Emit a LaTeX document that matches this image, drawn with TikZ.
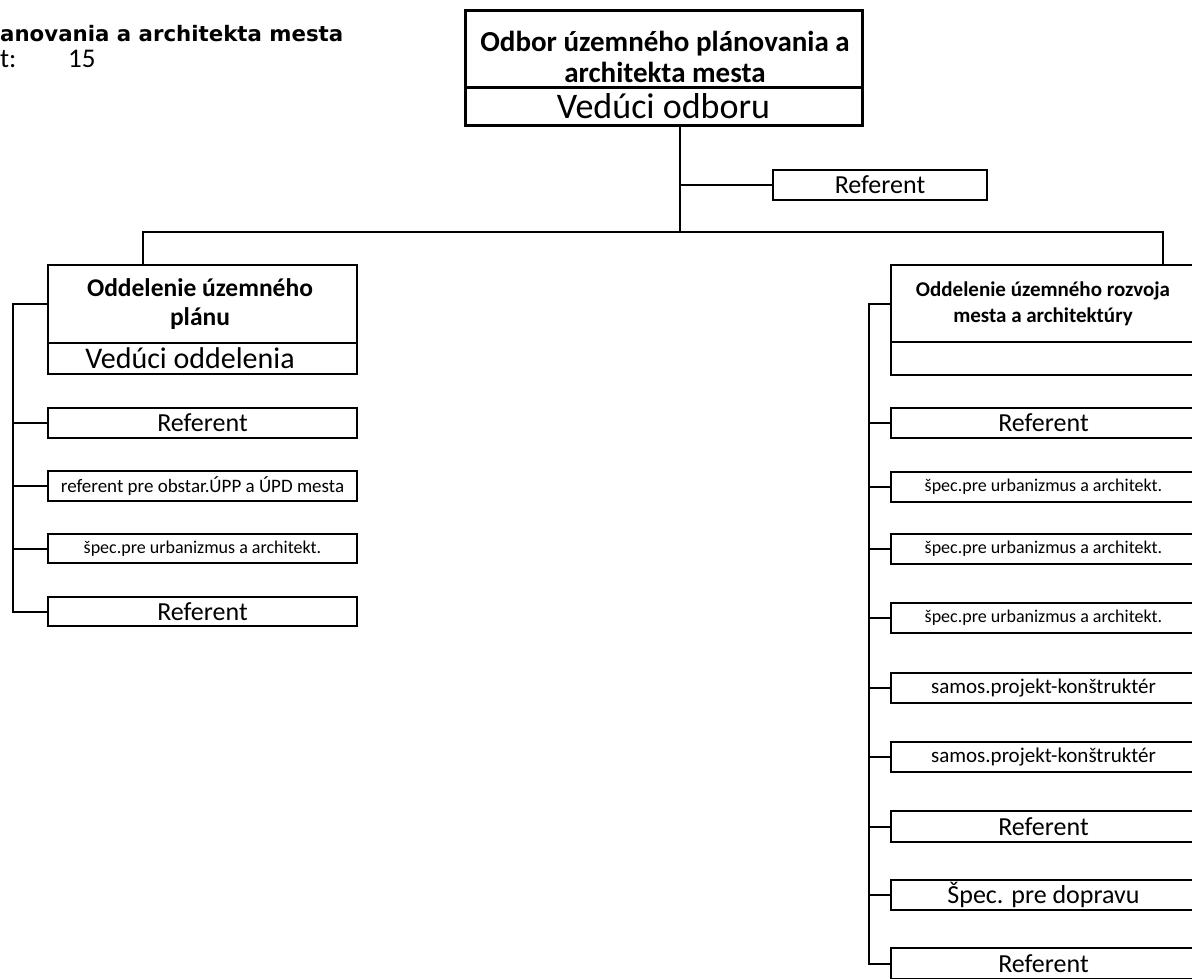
\documentclass[tikz,border=0pt]{standalone}
\usepackage{fontspec}
\setmainfont{Carlito}
\newfontfamily\hdrfont{DejaVu Sans}
\begin{document}
\begin{tikzpicture}[x=1pt,y=-1pt,
  box/.style={draw,line width=2pt,rectangle,inner sep=0pt,outer sep=0pt,anchor=north west},
  thickbox/.style={box,line width=3pt},
  link/.style={line width=2pt},
  fs/.style={font=\fontsize{#1}{#1}\selectfont}]
\useasboundingbox (0,0) rectangle (1192,978);
\clip (0,0) rectangle (1192,978);

% header
\node[font=\hdrfont\bfseries\fontsize{21.3}{21.3}\selectfont, anchor=base west, inner sep=0pt] (hdr) at (0,41) {anovania a architekta mesta};
\node[fs=27, anchor=base west, inner sep=0pt] (cnt) at (0,67) {t:};
\node[fs=27, anchor=base west, inner sep=0pt] (cntn) at (68,67) {15};

% top
\node[thickbox,minimum width=397pt,minimum height=77pt] (T) at (465,10) {};
\node[align=center, inner sep=0pt, font=\fontsize{29}{31}\selectfont\bfseries] (Tt) at (665,57) {Odbor územného plánovania a\\architekta mesta};
\node[thickbox,minimum width=397pt,minimum height=38pt,fs=36] (TV) at (465,87) {Vedúci odboru};
\node[box,minimum width=214pt,minimum height=30pt,fs=26] (R0) at (773,170) {Referent};

\coordinate (tdrop) at (680,125);
\coordinate (bar) at (680,232);
\coordinate (ldrop) at (143,265);
\coordinate (rdrop) at (1163,265);
\draw[link] (tdrop) -- (bar);
\draw[link] (R0.west) -- (R0.west -| tdrop);
\draw[link] (ldrop) |- (bar) -| (rdrop);

% left department
\node[box,minimum width=309pt,minimum height=78pt] (Lt) at (48,265) {};
\node[inner sep=0pt, align=center, font=\fontsize{25.5}{29}\selectfont\bfseries] (Ltt) at (200,304) {Oddelenie územného\\plánu};
\node[box,minimum width=309pt,minimum height=31pt] (Lv) at (48,343) {};
\node[fs=30, inner sep=0pt] (Lvt) at (190,358) {Vedúci oddelenia};
\node[box,minimum width=309pt,minimum height=30pt,fs=26] (L1) at (48,408) {Referent};
\node[box,minimum width=309pt,minimum height=30pt,fs=19] (L2) at (48,471) {referent pre obstar.ÚPP a ÚPD mesta};
\node[box,minimum width=309pt,minimum height=29pt,fs=18] (L3) at (48,534) {špec.pre urbanizmus a architekt.};
\node[box,minimum width=309pt,minimum height=29pt,fs=26] (L4) at (48,597) {Referent};
\coordinate (lsp) at (13,0);
\draw[link] (Lt.west) -| (lsp |- L4.west) -- (L4.west);
\foreach \n in {L1,L2,L3} \draw[link] (lsp |- \n.west) -- (\n.west);

% right department
\node[box,minimum width=305pt,minimum height=77pt] (Rt) at (891,265) {};
\node[inner sep=0pt, align=center, font=\fontsize{21}{26}\selectfont\bfseries] (Rtt) at (1043,304) {Oddelenie územného rozvoja\\mesta a architektúry};
\node[box,minimum width=305pt,minimum height=33pt] (Rv) at (891,342) {};
\node[box,minimum width=305pt,minimum height=30pt,fs=26] (S1) at (891,408) {Referent};
\node[box,minimum width=305pt,minimum height=30pt,fs=18] (S2) at (891,472) {špec.pre urbanizmus a architekt.};
\node[box,minimum width=305pt,minimum height=30pt,fs=18] (S3) at (891,534) {špec.pre urbanizmus a architekt.};
\node[box,minimum width=305pt,minimum height=30pt,fs=18] (S4) at (891,603) {špec.pre urbanizmus a architekt.};
\node[box,minimum width=305pt,minimum height=30pt,fs=21] (S5) at (891,673) {samos.projekt-konštruktér};
\node[box,minimum width=305pt,minimum height=30pt,fs=21] (S6) at (891,742) {samos.projekt-konštruktér};
\node[box,minimum width=305pt,minimum height=31pt,fs=26] (S7) at (891,811) {Referent};
\node[box,minimum width=305pt,minimum height=30pt,fs=26] (S8) at (891,880) {Špec. pre dopravu};
\node[box,minimum width=305pt,minimum height=31pt,fs=26] (S9) at (891,948) {Referent};
\coordinate (rsp) at (869,0);
\draw[link] (Rt.west) -| (rsp |- S9.west) -- (S9.west);
\foreach \n in {S1,S2,S3,S4,S5,S6,S7,S8} \draw[link] (rsp |- \n.west) -- (\n.west);
\end{tikzpicture}
\end{document}
